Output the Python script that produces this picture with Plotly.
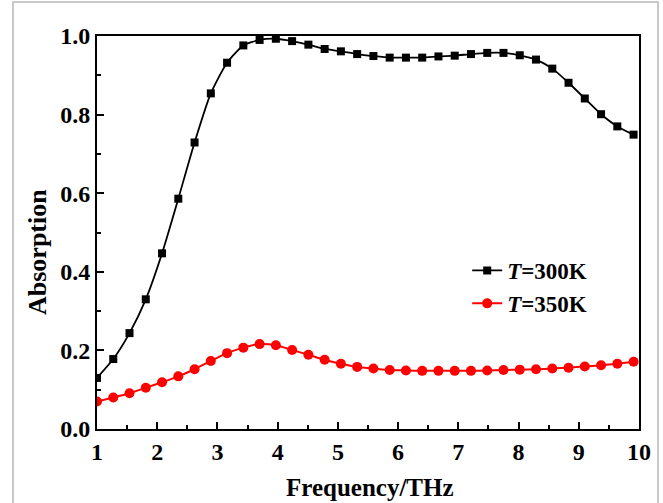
import plotly.graph_objects as go

freq = [1.00, 1.27, 1.54, 1.81, 2.08, 2.35, 2.62, 2.89, 3.16, 3.43, 3.70, 3.97,
        4.24, 4.51, 4.78, 5.05, 5.32, 5.59, 5.86, 6.13, 6.40, 6.67, 6.94, 7.21,
        7.48, 7.75, 8.02, 8.29, 8.56, 8.83, 9.10, 9.37, 9.64, 9.91]
abs_300 = [0.130, 0.178, 0.244, 0.330, 0.447, 0.586, 0.729, 0.854, 0.932, 0.976, 0.990, 0.993,
           0.987, 0.978, 0.967, 0.961, 0.954, 0.949, 0.945, 0.945, 0.945, 0.948, 0.950, 0.954,
           0.957, 0.957, 0.951, 0.940, 0.917, 0.881, 0.841, 0.801, 0.770, 0.749]
abs_350 = [0.070, 0.080, 0.091, 0.105, 0.119, 0.134, 0.152, 0.173, 0.193, 0.207, 0.216, 0.213,
           0.201, 0.189, 0.176, 0.166, 0.158, 0.154, 0.150, 0.149, 0.148, 0.148, 0.148, 0.148,
           0.149, 0.150, 0.151, 0.152, 0.154, 0.156, 0.159, 0.162, 0.166, 0.171]
x_ticks = [1, 2, 3, 4, 5, 6, 7, 8, 9, 10]
y_ticks = [0.0, 0.2, 0.4, 0.6, 0.8, 1.0]

FONT = "Liberation Serif"

fig = go.Figure()
fig.add_trace(go.Scatter(
    x=freq, y=abs_300, mode="lines+markers", name="<i>T</i>=300K",
    line=dict(color="black", width=1.8, shape="spline", smoothing=0.6),
    marker=dict(symbol="square", size=8, color="black"),
))
fig.add_trace(go.Scatter(
    x=freq, y=abs_350, mode="lines+markers", name="<i>T</i>=350K",
    line=dict(color="#ff0000", width=2, shape="spline", smoothing=0.6),
    marker=dict(symbol="circle", size=10, color="#ff0000"),
))

axis_common = dict(
    showline=True, linecolor="black", linewidth=2, mirror=True,
    ticks="inside", ticklen=7, tickwidth=1.5, tickcolor="black",
    showgrid=False, zeroline=False,
    tickfont=dict(family=FONT, size=24, color="black", weight="bold"),
)
fig.update_xaxes(range=[1, 10], tickvals=x_ticks, ticktext=[str(v) for v in x_ticks],
                 minor=dict(ticks="inside", ticklen=4, tickwidth=1.5, tickcolor="black", dtick=0.5, showgrid=False),
                 **axis_common)
fig.update_yaxes(range=[0, 1.0], tickvals=y_ticks, ticktext=["%.1f" % v for v in y_ticks],
                 minor=dict(ticks="inside", ticklen=4, tickwidth=1.5, tickcolor="black", dtick=0.1, showgrid=False),
                 **axis_common)

fig.add_annotation(text="Frequency/THz", xref="paper", yref="paper", x=0.503, y=-0.150,
                   showarrow=False, xanchor="center", yanchor="middle",
                   font=dict(family=FONT, size=25, color="black", weight="bold"))
fig.add_annotation(text="Absorption", xref="paper", yref="paper", x=-0.111, y=0.45,
                   showarrow=False, xanchor="center", yanchor="middle", textangle=-90,
                   font=dict(family=FONT, size=26, color="black", weight="bold"))

fig.add_shape(type="rect", xref="paper", yref="paper", xsizemode="pixel", ysizemode="pixel",
              xanchor=0, yanchor=0, x0=-84, x1=561, y0=-90, y1=427,
              line=dict(color="#b8b8b8", width=1.5), fillcolor="rgba(0,0,0,0)", layer="above")

fig.update_layout(
    width=663, height=503,
    margin=dict(l=97, r=24, t=36, b=74),
    paper_bgcolor="white", plot_bgcolor="white",
    showlegend=True,
    legend=dict(x=0.683, y=0.458, xanchor="left", yanchor="top",
                bgcolor="rgba(0,0,0,0)", borderwidth=0,
                font=dict(family=FONT, size=23, color="black", weight="bold"),
                tracegroupgap=0, itemwidth=30),
)

fig.write_html("out.html", config={"displayModeBar": False},
               post_script="document.body.style.margin='0';document.body.style.overflow='hidden';")
